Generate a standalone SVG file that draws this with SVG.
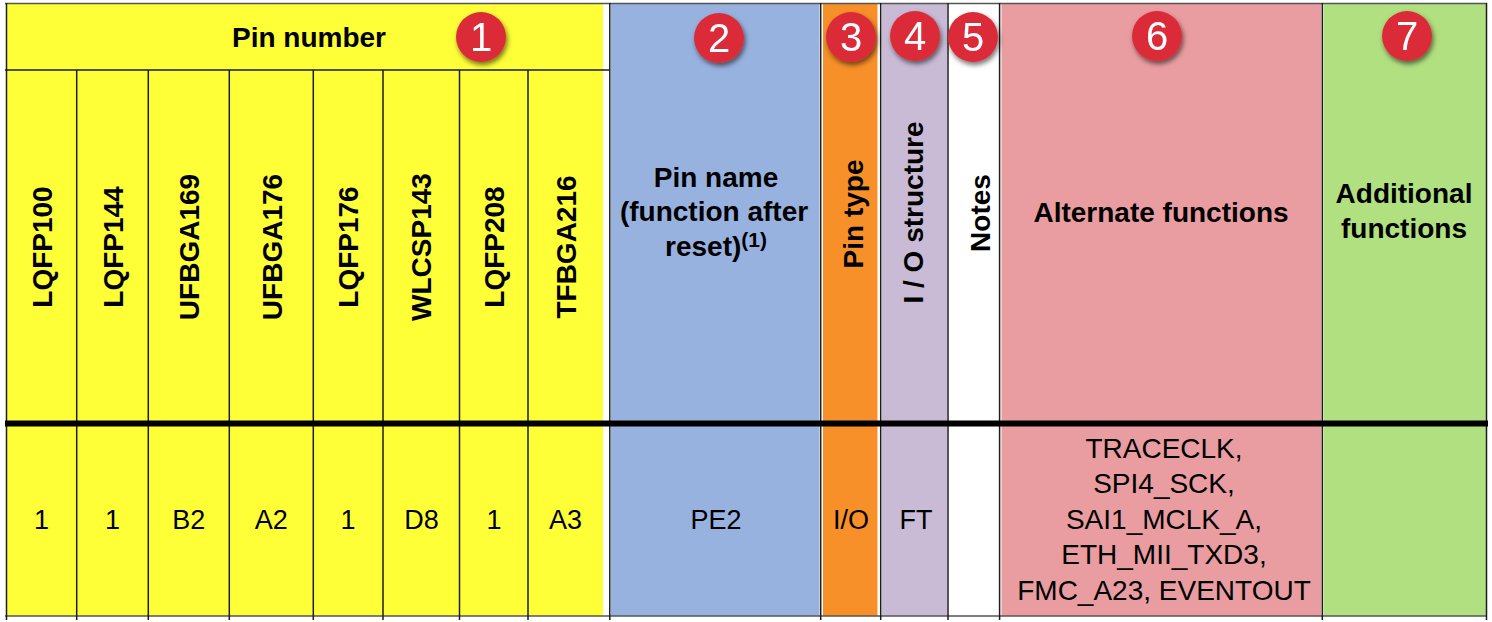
<svg xmlns="http://www.w3.org/2000/svg" width="1492" height="622" viewBox="0 0 1492 622">
<style>
.hd{font-family:"Liberation Sans",Arial,sans-serif;font-weight:bold;font-size:28px;fill:#000;}
.bd{font-family:"Liberation Sans",Arial,sans-serif;font-size:27px;fill:#000;}
.af{font-family:"Liberation Sans",Arial,sans-serif;font-size:28px;fill:#000;}
.ln{stroke:#1c1c1c;stroke-width:1.5;fill:none;}
.gl{stroke:#555;stroke-width:1.5;fill:none;}
.bg circle{fill:#db2c38;}
.bg text{font-family:"Liberation Sans",Arial,sans-serif;font-size:40px;fill:#fff;text-anchor:middle;}
</style>
<defs>
<filter id="sh" x="-50%" y="-50%" width="200%" height="200%">
<feDropShadow dx="1.5" dy="3" stdDeviation="2.5" flood-color="#000" flood-opacity="0.55"/>
</filter>
</defs>
<rect x="0" y="0" width="1492" height="622" fill="#fff"/>

<g id="col-pin-number">
<rect x="6.5" y="3.5" width="596.5" height="612.5" fill="#ffff38"/>
<text class="hd" x="309" y="47" text-anchor="middle">Pin number</text>
<g class="hd" text-anchor="middle">
<text transform="translate(52,247) rotate(-90)">LQFP100</text>
<text transform="translate(122.5,247) rotate(-90)">LQFP144</text>
<text transform="translate(199,247) rotate(-90)">UFBGA169</text>
<text transform="translate(281.5,247) rotate(-90)">UFBGA176</text>
<text transform="translate(358,247) rotate(-90)">LQFP176</text>
<text transform="translate(431,247) rotate(-90)">WLCSP143</text>
<text transform="translate(504,247) rotate(-90)">LQFP208</text>
<text transform="translate(575.5,247) rotate(-90)">TFBGA216</text>
</g>
<g class="bd" text-anchor="middle">
<text x="41.6" y="529">1</text>
<text x="112.5" y="529">1</text>
<text x="188.8" y="529">B2</text>
<text x="271.3" y="529">A2</text>
<text x="348" y="529">1</text>
<text x="421.5" y="529">D8</text>
<text x="494" y="529">1</text>
<text x="565.5" y="529">A3</text>
</g>
</g>

<g id="col-pin-name">
<rect x="611" y="3.5" width="208.5" height="612.5" fill="#98b2e0"/>
<g class="hd" text-anchor="middle">
<text x="716" y="187">Pin name</text>
<text x="714" y="221">(function after</text>
<text x="716" y="256">reset)<tspan font-size="21" dy="-9">(1)</tspan></text>
</g>
<text class="bd" x="716" y="529" text-anchor="middle">PE2</text>
</g>

<g id="col-pin-type">
<rect x="823" y="3.5" width="54.5" height="612.5" fill="#f79028"/>
<text class="hd" text-anchor="middle" transform="translate(863,214) rotate(-90)">Pin type</text>
<text class="bd" x="851" y="529" text-anchor="middle">I/O</text>
</g>

<g id="col-io-structure">
<rect x="882" y="3.5" width="65" height="612.5" fill="#c9bbd6"/>
<text class="hd" text-anchor="middle" transform="translate(923,212.5) rotate(-90)">I / O structure</text>
<text class="bd" x="916" y="529" text-anchor="middle">FT</text>
</g>

<g id="col-notes">
<rect x="949.5" y="3.5" width="49" height="612.5" fill="#ffffff"/>
<text class="hd" text-anchor="middle" transform="translate(990,213) rotate(-90)">Notes</text>
</g>

<g id="col-alternate">
<rect x="1001.5" y="3.5" width="319.5" height="612.5" fill="#ea9da1"/>
<text class="hd" x="1161" y="222" text-anchor="middle">Alternate functions</text>
<g class="af" text-anchor="middle">
<text x="1164" y="457.5">TRACECLK,</text>
<text x="1164" y="493">SPI4_SCK,</text>
<text x="1164" y="528.5">SAI1_MCLK_A,</text>
<text x="1164" y="564">ETH_MII_TXD3,</text>
<text x="1164" y="599.5">FMC_A23, EVENTOUT</text>
</g>
</g>

<g id="col-additional">
<rect x="1323.5" y="3.5" width="162.5" height="612.5" fill="#b1e080"/>
<g class="hd" text-anchor="middle">
<text x="1404" y="203">Additional</text>
<text x="1404" y="238">functions</text>
</g>
</g>

<g id="grid">
<path class="gl" d="M5 3.5 H1487 M5 616 H1487"/>
<path class="ln" d="M6.5 3 V620 M5 70 H609.5"/>
<path class="ln" d="M76.7 70 V620 M148.3 70 V620 M229.3 70 V620 M313.3 70 V620 M383 70 V620 M459.5 70 V620 M528 70 V620"/>
<path class="ln" d="M609.8 3 V620 M820.7 3 V620 M880.7 3 V620 M948 3 V620 M999.6 3 V620 M1322.3 3 V620 M1486.5 3 V620"/>
<path d="M5 423.5 H1488" stroke="#000" stroke-width="6"/>
</g>

<g id="badges" class="bg">
<g id="badge-1" filter="url(#sh)"><circle cx="481" cy="37" r="25"/><text x="481" y="51">1</text></g>
<g id="badge-2" filter="url(#sh)"><circle cx="719" cy="38" r="25"/><text x="719" y="52">2</text></g>
<g id="badge-3" filter="url(#sh)"><circle cx="851" cy="37" r="25"/><text x="851" y="51">3</text></g>
<g id="badge-4" filter="url(#sh)"><circle cx="915" cy="36" r="25"/><text x="915" y="50">4</text></g>
<g id="badge-5" filter="url(#sh)"><circle cx="973" cy="37" r="25"/><text x="973" y="51">5</text></g>
<g id="badge-6" filter="url(#sh)"><circle cx="1157" cy="36" r="25"/><text x="1157" y="50">6</text></g>
<g id="badge-7" filter="url(#sh)"><circle cx="1407" cy="36" r="25"/><text x="1407" y="50">7</text></g>
</g>
<g id="connectors"/>
</svg>
